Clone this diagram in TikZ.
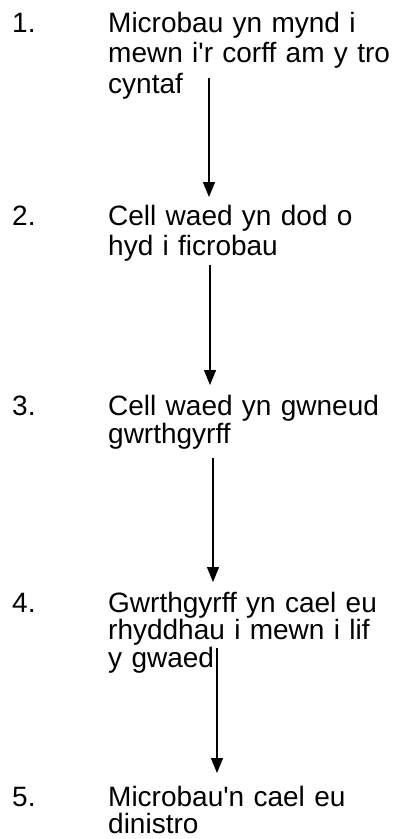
\documentclass[tikz,border=0pt]{standalone}
\usepackage{fontspec}
\newfontfamily\arialf{Liberation Sans}
\usetikzlibrary{arrows.meta}
\begin{document}
\begin{tikzpicture}[x=1pt,y=1pt,
  txt/.style={anchor=base west,inner sep=0pt,text width=286pt,align=left},
  num/.style={anchor=base west,inner sep=0pt,font=\arialf\fontsize{28}{30}\selectfont},
  arr/.style={-{Triangle[width=12pt,length=15pt]},line width=1.2pt,black}]
\useasboundingbox (0,0) rectangle (396,-839);
\node[num] (n1) at (12,-32) {1.};
\node[txt,font=\arialf\fontsize{28}{30.5}\selectfont] (t1) at (108,-32) {Microbau yn mynd i\\mewn i'r corff am y tro\\cyntaf};
\node[num] (n2) at (12,-225) {2.};
\node[txt,font=\arialf\fontsize{28}{30}\selectfont] (t2) at (108,-225) {Cell waed yn dod o\\hyd i ficrobau};
\node[num] (n3) at (12,-415) {3.};
\node[txt,font=\arialf\fontsize{28}{28.5}\selectfont] (t3) at (108,-415) {Cell waed yn gwneud\\gwrthgyrff};
\node[num] (n4) at (12,-612) {4.};
\node[txt,font=\arialf\fontsize{28}{27.5}\selectfont] (t4) at (108,-612) {Gwrthgyrff yn cael eu\\rhyddhau i mewn i lif\\y gwaed};
\node[num] (n5) at (12,-806) {5.};
\node[txt,font=\arialf\fontsize{28}{27}\selectfont] (t5) at (108,-806) {Microbau'n cael eu\\dinistro};
\draw[arr] ([shift={(101pt,-46pt)}]t1.base west) -- ([shift={(101pt,28pt)}]t2.base west);
\draw[arr] ([shift={(102pt,-40pt)}]t2.base west) -- ([shift={(102pt,30pt)}]t3.base west);
\draw[arr] ([shift={(105pt,-43pt)}]t3.base west) -- ([shift={(105pt,30pt)}]t4.base west);
\draw[arr] ([shift={(109pt,-36pt)}]t4.base west) -- ([shift={(109pt,33pt)}]t5.base west);
\end{tikzpicture}
\end{document}
